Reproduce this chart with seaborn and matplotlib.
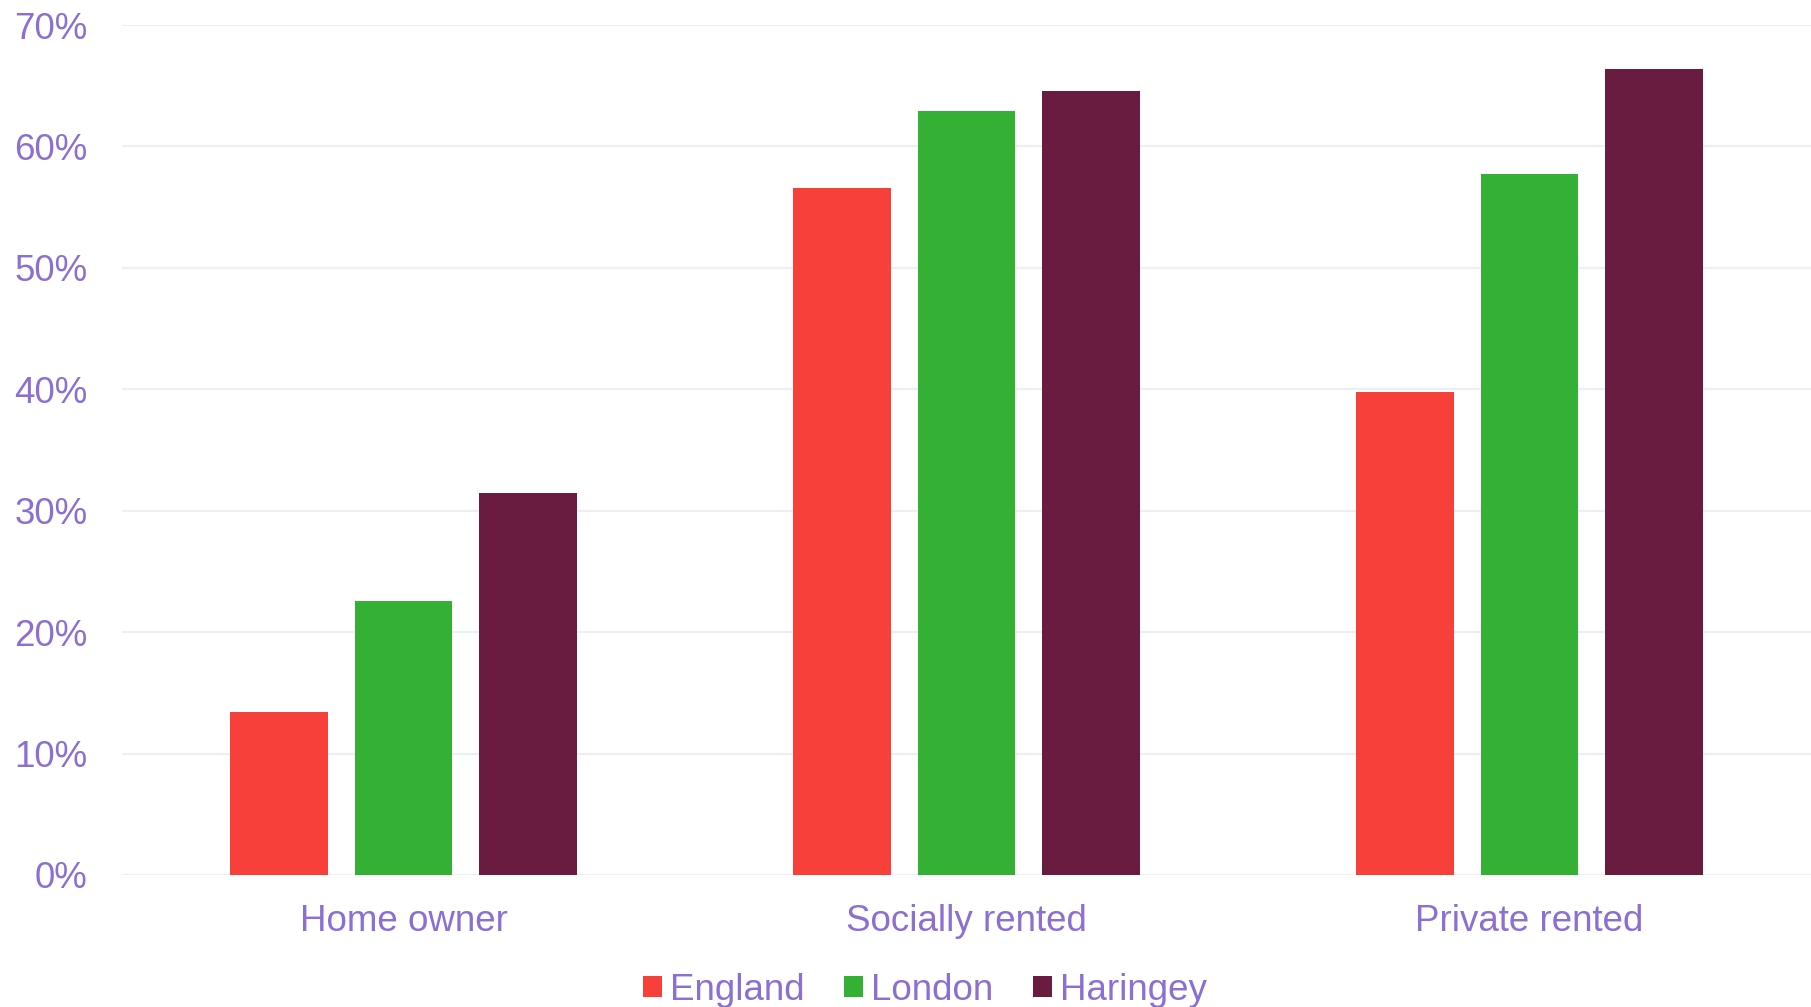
import matplotlib
matplotlib.use("Agg")
import matplotlib.pyplot as plt
import seaborn as sns
import pandas as pd
from matplotlib.ticker import FuncFormatter, MultipleLocator

categories = ["Home owner", "Socially rented", "Private rented"]
areas = ["England", "London", "Haringey"]
england = [13.4, 56.6, 39.8]
london = [22.6, 62.9, 57.7]
haringey = [31.5, 64.6, 66.4]
colors = ["#F7403A", "#34B034", "#6A1B40"]
text_color = "#8C6FD3"
grid_color = "#ECEFF3"

rows = []
for area, vals in zip(areas, [england, london, haringey]):
    for cat, v in zip(categories, vals):
        rows.append({"Tenure": cat, "Area": area, "Share": v})
df = pd.DataFrame(rows)

sns.set_theme(style="white")
plt.rcParams["font.family"] = ["Liberation Sans", "DejaVu Sans"]

fig = plt.figure(figsize=(18.11, 10.07), dpi=100)
ax = fig.add_axes([122 / 1811, 132 / 1007, 1689 / 1811, 850 / 1007])

sns.barplot(data=df, x="Tenure", y="Share", hue="Area", order=categories,
            hue_order=areas, palette=colors, saturation=1, width=0.665, gap=0.216,
            linewidth=0, errorbar=None, ax=ax)

ax.set_xlim(-0.5, 2.5)
ax.set_ylim(0, 70)
ax.yaxis.set_major_locator(MultipleLocator(10))
ax.yaxis.set_major_formatter(FuncFormatter(lambda v, p: f"{v:.0f}%"))
ax.set_axisbelow(True)
ax.grid(axis="y", color=grid_color, linewidth=1.6)
ax.grid(axis="x", visible=False)
for s in ax.spines.values():
    s.set_visible(False)
ax.set_xlabel("")
ax.set_ylabel("")
ax.tick_params(axis="y", length=0, pad=25, labelsize=26.5, labelcolor=text_color)
ax.tick_params(axis="x", length=0, pad=21, labelsize=26.5, labelcolor=text_color)

handles, labels = ax.get_legend_handles_labels()
if ax.legend_:
    ax.legend_.remove()
fig.legend(handles, labels, loc="center", bbox_to_anchor=(925 / 1811, 1 - 990 / 1007),
           ncol=3, frameon=False, fontsize=26.5, labelcolor=text_color,
           handlelength=0.52, handleheight=0.52, handletextpad=0.22,
           columnspacing=1.06, borderpad=0, borderaxespad=0)

fig.savefig("out.png", dpi=100, facecolor="white")
